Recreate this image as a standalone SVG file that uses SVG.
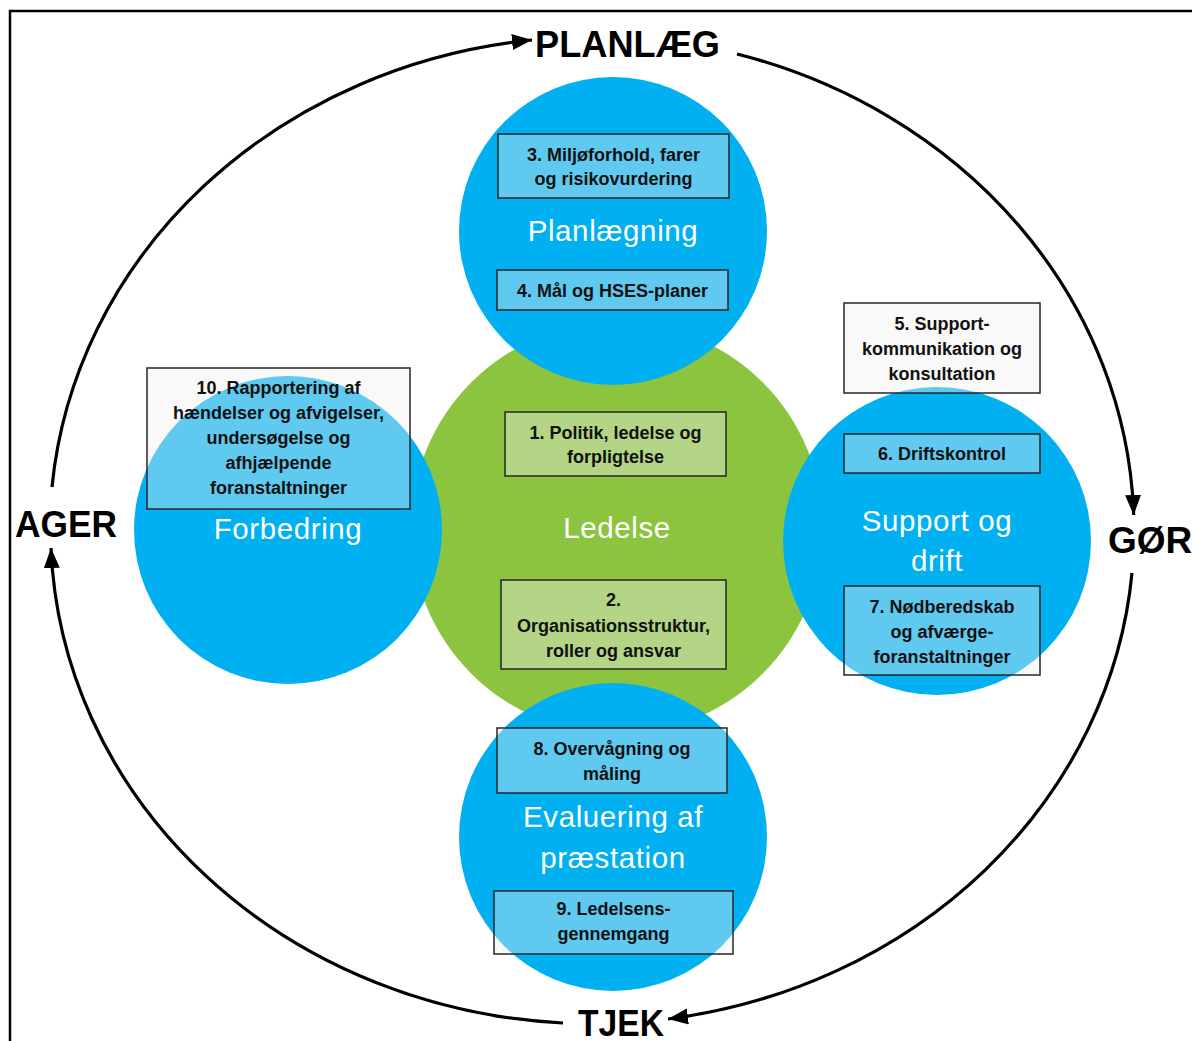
<svg xmlns="http://www.w3.org/2000/svg" width="1192" height="1041" viewBox="0 0 1192 1041">
<defs>
<style>
.blue{fill:#00B0F0}
.green{fill:#8CC43F}
.box{fill:#EFEFEF;fill-opacity:0.4;stroke:#262626;stroke-width:1.5}
.bt{font-family:"Liberation Sans",Arial,sans-serif;font-weight:bold;font-size:18px;fill:#111;text-anchor:middle}
.big{font-family:"Liberation Sans",Arial,sans-serif;font-size:29.5px;fill:#fff;text-anchor:middle;letter-spacing:0.6px}
.cyc{font-family:"Liberation Sans",Arial,sans-serif;font-weight:bold;font-size:37px;fill:#000}
.arc{fill:none;stroke:#000;stroke-width:3.2}
</style>
<marker id="ah" markerUnits="userSpaceOnUse" markerWidth="24" markerHeight="18" refX="20" refY="8" orient="auto">
<path d="M0,0 L20,8 L0,16 z" fill="#000"/>
</marker>
</defs>
<rect x="0" y="0" width="1192" height="1041" fill="#fff"/>
<rect x="10" y="11" width="1200" height="1100" fill="none" stroke="#000" stroke-width="2.5"/>

<g id="connectors">
<path class="arc" d="M52,487 A542,494 0 0 1 532,40" marker-end="url(#ah)"/>
<path class="arc" d="M737,54 A542,494 0 0 1 1133.7,515" marker-end="url(#ah)"/>
<path class="arc" d="M1132,573 A542,494 0 0 1 668,1019" marker-end="url(#ah)"/>
<path class="arc" d="M563,1023 A542,494 0 0 1 51,548" marker-end="url(#ah)"/>
</g>

<g id="cycle-labels">
<text class="cyc" x="535" y="57" textLength="185" lengthAdjust="spacingAndGlyphs">PLANLÆG</text>
<text class="cyc" x="1108" y="553">GØR</text>
<text class="cyc" x="578" y="1036" font-size="35" textLength="86" lengthAdjust="spacingAndGlyphs">TJEK</text>
<text class="cyc" x="15" y="537" textLength="102" lengthAdjust="spacingAndGlyphs">AGER</text>
</g>

<g id="ledelse">
<circle class="green" cx="617" cy="528" r="206"/>
</g>
<g id="planlaegning">
<circle class="blue" cx="613" cy="231" r="154"/>
</g>
<g id="forbedring">
<circle class="blue" cx="288" cy="530" r="154"/>
</g>
<g id="support">
<circle class="blue" cx="937" cy="541" r="154"/>
</g>
<g id="evaluering">
<circle class="blue" cx="613" cy="837" r="154"/>
</g>

<g id="ledelse-labels">
<text class="big" x="617" y="538">Ledelse</text>
</g>
<g id="planlaegning-labels">
<text class="big" x="613" y="241">Planlægning</text>
</g>
<g id="forbedring-labels">
<text class="big" x="288" y="539">Forbedring</text>
</g>
<g id="support-labels">
<text class="big" x="937" y="531">Support og</text>
<text class="big" x="937" y="571">drift</text>
</g>
<g id="evaluering-labels">
<text class="big" x="613" y="827">Evaluering af</text>
<text class="big" x="613" y="868">præstation</text>
</g>

<g id="box3">
<rect class="box" x="498" y="134" width="231" height="64"/>
<text class="bt" x="613.5" y="161">3. Miljøforhold, farer</text>
<text class="bt" x="613.5" y="185">og risikovurdering</text>
</g>
<g id="box4">
<rect class="box" x="497" y="270" width="231" height="40"/>
<text class="bt" x="612.5" y="297">4. Mål og HSES-planer</text>
</g>
<g id="box1">
<rect class="box" x="505" y="412" width="221" height="64"/>
<text class="bt" x="615.5" y="439">1. Politik, ledelse og</text>
<text class="bt" x="615.5" y="463">forpligtelse</text>
</g>
<g id="box2">
<rect class="box" x="501" y="580" width="225" height="89"/>
<text class="bt" x="613.5" y="606">2.</text>
<text class="bt" x="613.5" y="632">Organisationsstruktur,</text>
<text class="bt" x="613.5" y="657">roller og ansvar</text>
</g>
<g id="box10">
<rect class="box" x="147" y="368" width="263" height="141"/>
<text class="bt" x="278.5" y="394">10. Rapportering af</text>
<text class="bt" x="278.5" y="419">hændelser og afvigelser,</text>
<text class="bt" x="278.5" y="444">undersøgelse og</text>
<text class="bt" x="278.5" y="469">afhjælpende</text>
<text class="bt" x="278.5" y="494">foranstaltninger</text>
</g>
<g id="box5">
<rect class="box" x="844" y="303" width="196" height="90"/>
<text class="bt" x="942" y="330">5. Support-</text>
<text class="bt" x="942" y="355">kommunikation og</text>
<text class="bt" x="942" y="380">konsultation</text>
</g>
<g id="box6">
<rect class="box" x="844" y="434" width="196" height="39"/>
<text class="bt" x="942" y="460">6. Driftskontrol</text>
</g>
<g id="box7">
<rect class="box" x="844" y="586" width="196" height="89"/>
<text class="bt" x="942" y="613">7. Nødberedskab</text>
<text class="bt" x="942" y="638">og afværge-</text>
<text class="bt" x="942" y="663">foranstaltninger</text>
</g>
<g id="box8">
<rect class="box" x="497" y="728" width="230" height="65"/>
<text class="bt" x="612" y="755">8. Overvågning og</text>
<text class="bt" x="612" y="780">måling</text>
</g>
<g id="box9">
<rect class="box" x="494" y="891" width="239" height="63"/>
<text class="bt" x="613.5" y="915">9. Ledelsens-</text>
<text class="bt" x="613.5" y="940">gennemgang</text>
</g>
</svg>
